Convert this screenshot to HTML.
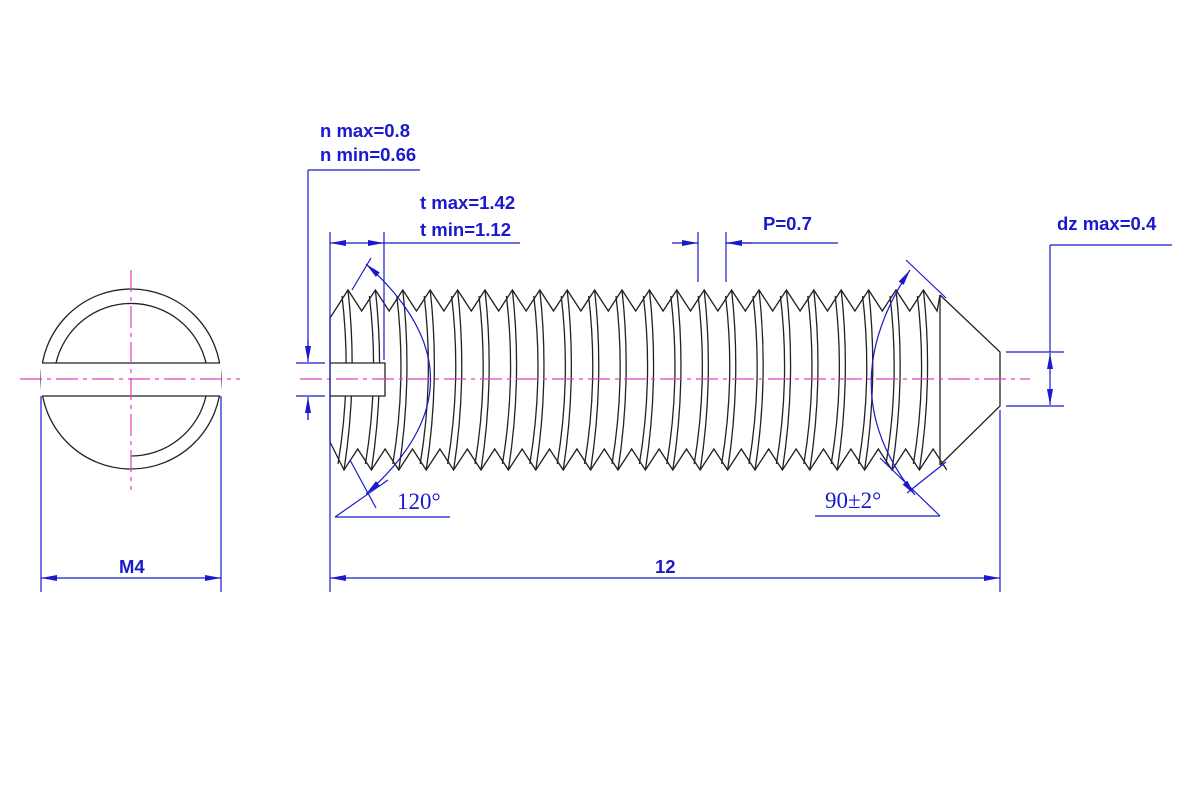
<!DOCTYPE html>
<html><head><meta charset="utf-8"><style>
html,body{margin:0;padding:0;background:#fff;width:1200px;height:800px;overflow:hidden}
svg{display:block}
.b{stroke:#1a1acc;stroke-width:1.2;fill:none}
.k{stroke:#222;stroke-width:1.3;fill:none}
.m{stroke:#e040c0;stroke-width:1.2;fill:none;stroke-dasharray:22 5 4 5}
.t{font-family:"Liberation Sans",sans-serif;font-weight:bold;font-size:18.5px;fill:#1a1acc}
.s{font-family:"Liberation Serif",serif;font-size:23px;fill:#1a1acc}
</style></head><body>
<svg id="s" width="1200" height="800" viewBox="0 0 1200 800">
<defs><marker id="a" viewBox="0 0 16 8" refX="16" refY="4" markerWidth="16" markerHeight="8" orient="auto-start-reverse" markerUnits="userSpaceOnUse"><path d="M0,1 L16,4 L0,7z" fill="#1a1acc"/></marker></defs>
<circle cx="131" cy="379" r="90" class="k"/>
<rect x="41" y="363" width="180" height="33" fill="#fff" stroke="none"/>
<path class="k" d="M42,363 H220 M42,396 H220"/>
<path class="k" d="M56,363 A77,77 0 0 1 206,363"/>
<path class="k" d="M206,396 A77,77 0 0 1 131,456"/>
<path class="m" d="M20,379 H240 M131,270 V490"/>
<path class="b" d="M41,396 V592 M221,396 V592"/>
<line class="b" x1="41" y1="578" x2="221" y2="578" marker-start="url(#a)" marker-end="url(#a)"/>
<text class="t" x="119" y="573">M4</text>
<g id="th"></g>
<path class="k" d="M940,295 L1000,352 V406 L940,465"/>
<path class="k" d="M940,295 V465"/>
<rect x="331" y="363" width="54" height="33" fill="#fff"/>
<path class="k" d="M330,363 H385 V396 H330"/>
<path class="m" d="M300,379 H1030"/>
<path class="b" d="M308,170 H420 M308,170 V348 M308,410 V420 M296,363 H325 M296,396 H325"/>
<line class="b" x1="308" y1="340" x2="308" y2="362" marker-end="url(#a)"/>
<line class="b" x1="308" y1="420" x2="308" y2="397" marker-end="url(#a)"/>
<text class="t" x="320" y="137">n max=0.8</text>
<text class="t" x="320" y="161">n min=0.66</text>
<path class="b" d="M330,232 V592 M384,232 V360 M384,243 H520"/>
<line class="b" x1="330" y1="243" x2="384" y2="243" marker-start="url(#a)" marker-end="url(#a)"/>
<text class="t" x="420" y="209">t max=1.42</text>
<text class="t" x="420" y="236">t min=1.12</text>
<path class="b" d="M698,232 V282 M726,232 V282 M726,243 H838"/>
<line class="b" x1="672" y1="243" x2="698" y2="243" marker-end="url(#a)"/>
<line class="b" x1="752" y1="243" x2="726" y2="243" marker-end="url(#a)"/>
<text class="t" x="763" y="230">P=0.7</text>
<path class="b" d="M1006,352 H1064 M1006,406 H1064 M1050,245 H1172 M1050,245 V352"/>
<line class="b" x1="1050" y1="353" x2="1050" y2="380" marker-start="url(#a)"/>
<line class="b" x1="1050" y1="380" x2="1050" y2="405" marker-end="url(#a)"/>
<text class="t" x="1057" y="230">dz max=0.4</text>
<path class="b" d="M1000,410 V592"/>
<line class="b" x1="330" y1="578" x2="1000" y2="578" marker-start="url(#a)" marker-end="url(#a)"/>
<text class="t" x="655" y="573">12</text>
<path class="b" d="M352,290 L371,258 M350,460 L376,508 M335,517 L450,517 M335,517 L388,480"/>
<path class="b" d="M366,264 Q495,380 366,494" marker-start="url(#a)" marker-end="url(#a)"/>
<text class="s" x="397" y="509">120°</text>
<path class="b" d="M906,260 L946,298 M946,462 L907,493 M940,516 L815,516 M940,516 L880,458"/>
<path class="b" d="M910,270 Q830,390 915,495" marker-start="url(#a)" marker-end="url(#a)"/>
<text class="s" x="825" y="508">90±2°</text>
</svg>
<script>
var g=document.getElementById('th'),d='',p=27.4,x0=348;
var tp='M330,318 L348,290',bt='M330,442 L344,470';
for(var i=0;i<22;i++){var x=x0+i*p;if(x>935)break;
 var nx=x+p; tp+=' L'+(x+p/2)+',311 L'+Math.min(nx,940)+','+(nx>940?295:290);
}
for(var i=0;i<22;i++){var x=344+i*p;if(x+p/2>940)break;
 bt+=' L'+(x+p/2)+',449 L'+(x+p)+',470';
}
d+='<path class="k" d="'+tp+'"/><path class="k" d="'+bt+'"/><path class="k" d="M330,318 V442"/>';
for(var i=0;i<22;i++){var x=x0+i*p;if(x>940)break;
 d+='<path class="k" d="M'+x+',290 Q'+(x+10)+',380 '+(x-4)+',470"/>';
 d+='<path class="k" d="M'+(x-6)+',296 Q'+(x+4)+',380 '+(x-10)+',464"/>';
}
g.innerHTML=d;
</script>
</body></html>
